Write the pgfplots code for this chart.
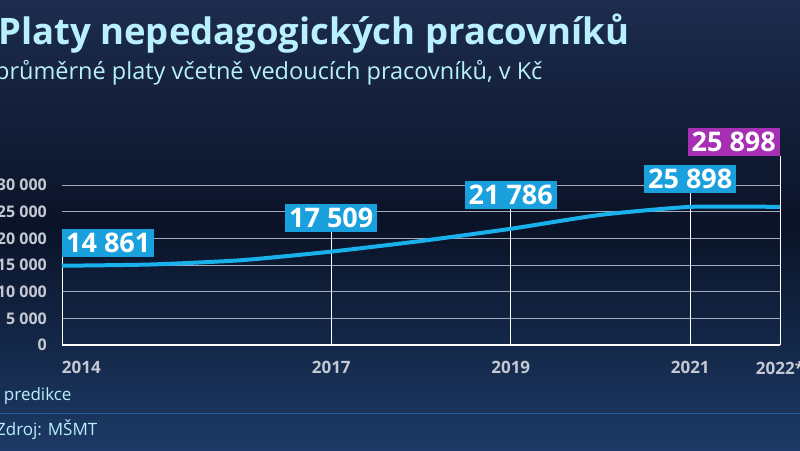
\documentclass[border=0pt]{standalone}
\usepackage{fontspec}
\setmainfont{Open Sans}
\usepackage{pgfplots}
\usepackage{pgfplotstable}
\pgfplotsset{compat=1.18}

\definecolor{bgtop}{HTML}{1D2C4E}
\definecolor{bgmid}{HTML}{0A1327}
\definecolor{bgbot}{HTML}{1C3A66}
\definecolor{titlecol}{HTML}{B8F0FD}
\definecolor{linecol}{HTML}{19B1EC}
\definecolor{boxblue}{HTML}{1AA0DC}
\definecolor{boxpurple}{HTML}{A72FB3}
\definecolor{gridcol}{HTML}{A3ABBC}
\definecolor{tickcol}{HTML}{C3C8D2}
\definecolor{sepcol}{HTML}{1F5C9C}

% average salary, CZK
\pgfplotstableread{
year value
2014 14861
2015 15100
2016 15900
2017 17509
2018 19500
2019 21786
2020 24400
2021 25898
2022 25898
}\salarytab

% label boxes: where the box sits (top) and what it shows (value)
\pgfplotstableread{
year top value
2014 16500 14861
2017 21200 17509
2019 25500 21786
2021 28500 25898
2022 35440 25898
}\boxtab

\tikzset{valbox/.style={fill=#1, text=white, font=\fontsize{27}{27}\selectfont\bfseries,
  inner xsep=4pt, inner ysep=4.5pt, text height=19pt, text depth=0pt}}

\begin{document}
\begin{tikzpicture}
\path[use as bounding box] (0pt,0pt) rectangle (800pt,450pt);
\begin{scope}
\clip (0pt,0pt) rectangle (800pt,450pt);
\shade[top color=bgtop, bottom color=bgbot, middle color=bgmid] (0pt,0pt) rectangle (800pt,450pt);

\node[anchor=base west, inner sep=0, text=titlecol, font=\fontsize{36.5}{36.5}\selectfont\bfseries]
  at (-2pt,405pt) {Platy nepedagogických pracovníků};
\node[anchor=base west, inner sep=0, text=titlecol, font=\fontsize{23.5}{23.5}\selectfont]
  at (-5pt,370pt) {průměrné platy včetně vedoucích pracovníků, v Kč};

\draw[sepcol, line width=1pt] (0pt,37pt) -- (800pt,37pt);
\node[anchor=base west, inner sep=0, text=titlecol, font=\fontsize{17}{17}\selectfont]
  at (-10pt,50pt) {* predikce};
\node[anchor=base west, inner sep=0, text=titlecol, font=\fontsize{17}{17}\selectfont]
  at (-4pt,15pt) {Zdroj: MŠMT};
\end{scope}

\begin{axis}[
    at={(62pt,105pt)}, anchor=south west,
    scale only axis, width=718pt, height=160pt,
    xmin=2014, xmax=2022, ymin=0, ymax=30000,
    clip=false,
    axis line style={draw=none},
    major tick length=0pt,
    ytick={5000,10000,...,30000},
    extra y ticks={0},
    extra y tick style={grid style={white, line width=1.8pt}},
    ymajorgrids,
    grid style={gridcol, line width=0.7pt},
    xtick={2014,2017,2019,2021,2022},
    xticklabels={\makebox[0pt][l]{2014},2017,2019,2021,2022*},
    scaled y ticks=false,
    yticklabel style={inner sep=0pt, xshift=-15pt, text=tickcol,
      font=\fontsize{16}{16}\selectfont\bfseries,
      /pgf/number format/1000 sep={\ }, /pgf/number format/assume math mode=true},
    xticklabel style={inner sep=0pt, yshift=-16pt, text=tickcol,
      font=\fontsize{17}{17}\selectfont\bfseries},
]

\addplot[ycomb, white, line width=0.8pt, mark=none] table[x=year, y=top] {\boxtab};

\addplot[linecol, line width=4pt, smooth, tension=0.35, mark=none] table[x=year, y=value] {\salarytab};

\addplot[draw=none, mark=none, nodes near coords, point meta=explicit,
  every node near coord/.style={valbox=boxblue, anchor=south west,
    /pgf/number format/1000 sep={\ }, /pgf/number format/assume math mode=true}]
  table[x=year, y=top, meta=value] {
year top value
2014 16500 14861
};
\addplot[draw=none, mark=none, nodes near coords, point meta=explicit,
  every node near coord/.style={valbox=boxblue, anchor=south,
    /pgf/number format/1000 sep={\ }, /pgf/number format/assume math mode=true}]
  table[x=year, y=top, meta=value] {
year top value
2017 21200 17509
2019 25500 21786
2021 28500 25898
};
\addplot[draw=none, mark=none, nodes near coords, point meta=explicit,
  every node near coord/.style={valbox=boxpurple, anchor=south east,
    /pgf/number format/1000 sep={\ }, /pgf/number format/assume math mode=true}]
  table[x=year, y=top, meta=value] {
year top value
2022 35440 25898
};
\end{axis}
\end{tikzpicture}
\end{document}
